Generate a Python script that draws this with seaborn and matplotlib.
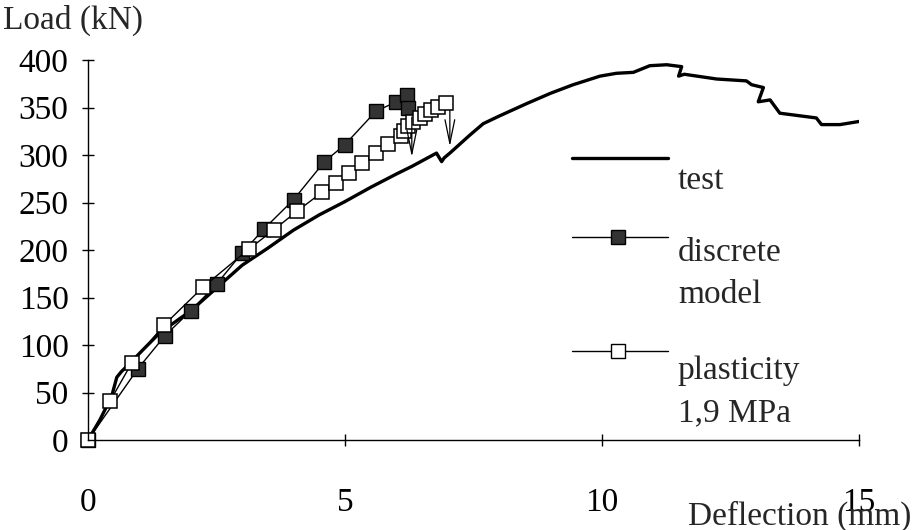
import numpy as np
import pandas as pd
import seaborn as sns
import matplotlib.pyplot as plt
from matplotlib.lines import Line2D

# test curve (deflection mm, load kN)
test_x = [0, 0.23, 0.46, 0.56, 0.65, 0.82, 1.07, 1.40, 2.0, 2.5, 3.0, 3.5, 4.0, 4.5,
          5.0, 5.5, 6.0, 6.3, 6.78, 6.88, 6.93, 7.04, 7.43, 7.69, 8.0, 8.53, 9.0,
          9.44, 9.96, 10.28, 10.61, 10.93, 11.26, 11.55, 11.49, 11.6, 12.23, 12.81,
          12.91, 13.14, 13.04, 13.27, 13.46, 14.17, 14.27, 14.63, 15.08]
test_y = [0, 21, 46, 66, 72, 81, 95, 113, 136, 160, 184, 202, 221, 237,
          251, 266, 280, 288, 302, 293, 297, 302, 321, 333, 341, 354, 365,
          374, 383, 386, 387, 394, 395, 393, 383, 385, 380, 378,
          374, 371, 356, 358, 344, 339, 332, 332, 336]

# discrete model
disc_x = [0, 0.97, 1.5, 2.0, 2.5, 3.0, 3.42, 4.0, 4.6, 5.0, 5.6, 6.0, 6.2, 6.22]
disc_y = [0, 75, 110, 136, 164, 197, 222, 253, 293, 311, 346, 356, 363, 349]

# plasticity 1,9 MPa
plas_x = [0, 0.43, 0.85, 1.48, 2.24, 3.13, 3.61, 4.07, 4.56, 4.82, 5.08, 5.34, 5.6,
          5.84, 6.08, 6.15, 6.22, 6.33, 6.45, 6.56, 6.68, 6.8, 6.97]
plas_y = [0, 41, 81, 121, 161, 201, 221, 241, 261, 271, 281, 292, 302,
          312, 320, 325, 331, 335, 339, 343, 347, 351, 355]

# failure arrows (x, start load, tip load)
arrow_x = [6.3, 7.04]
arrow_top = [340, 347]
arrow_tip = [298, 309]

legend_labels = ["test", "discrete\nmodel", "plasticity\n1,9 MPa"]

sns.set_style("ticks")
plt.rcParams['font.family'] = ['Liberation Serif', 'DejaVu Serif']
FS = 24
MS = 10

fig = plt.figure(figsize=(9.15, 5.3), dpi=100)
ax = fig.add_axes([88/915, 1 - 440/530, 771/915, 380/530])

sns.lineplot(x=test_x, y=test_y, sort=False, estimator=None, color="black",
             lw=2.4, ax=ax)
sns.lineplot(x=disc_x, y=disc_y, sort=False, estimator=None, color="black", lw=1,
             marker="s", markersize=MS, markerfacecolor="#333333",
             markeredgecolor="black", markeredgewidth=1, clip_on=False, ax=ax)
sns.lineplot(x=plas_x, y=plas_y, sort=False, estimator=None, color="black", lw=1,
             marker="s", markersize=MS, markerfacecolor="white",
             markeredgecolor="black", markeredgewidth=1.1, clip_on=False, ax=ax)

for xa, y0, y1 in zip(arrow_x, arrow_top, arrow_tip):
    ax.annotate("", xy=(xa, y1), xytext=(xa, y0),
                arrowprops=dict(arrowstyle="->,head_length=1.7,head_width=0.35",
                                color="black", lw=0.9, shrinkA=0, shrinkB=0))

ax.set_xlim(0, 15)
ax.set_ylim(0, 400)
ax.set_xticks([0, 5, 10, 15])
ax.set_yticks(np.arange(0, 401, 50))
ax.tick_params(direction="inout", length=8, width=1, labelsize=FS, colors="black")
ax.tick_params(axis="x", pad=30)
ax.tick_params(axis="y", pad=10)
sns.despine(ax=ax)
for s in ["left", "bottom"]:
    ax.spines[s].set_linewidth(1)
    ax.spines[s].set_color("black")

ax.set_ylabel("Load (kN)", rotation=0, ha="left", va="center", fontsize=FS)
ax.yaxis.set_label_coords(-0.11, 1.105)
ax.set_xlabel("Deflection (mm)", ha="right", va="center", fontsize=FS)
ax.xaxis.set_label_coords(1.068, -0.2)

# hand-made legend: handle above, text below-right
leg_y = [(440 - 158) / 380, (440 - 237) / 380, (440 - 351) / 380]
txt_top = [(440 - 165) / 380, (440 - 237) / 380, (440 - 356) / 380]
styles = [dict(lw=2.4, marker=None),
          dict(lw=1, marker="s", markerfacecolor="#333333"),
          dict(lw=1, marker="s", markerfacecolor="white")]
for ly, ty, lab, st in zip(leg_y, txt_top, legend_labels, styles):
    ax.add_line(Line2D([0.628, 0.752], [ly, ly], transform=ax.transAxes,
                       color="black", lw=st["lw"], clip_on=False))
    if st["marker"]:
        ax.add_line(Line2D([0.687], [ly], transform=ax.transAxes, marker="s",
                           markersize=MS, markerfacecolor=st["markerfacecolor"],
                           markeredgecolor="black", color="black", clip_on=False))
    ax.text(0.765, ty, lab, transform=ax.transAxes, fontsize=FS, ha="left",
            va="top", linespacing=1.5)

fig.savefig("out.png", dpi=100)
